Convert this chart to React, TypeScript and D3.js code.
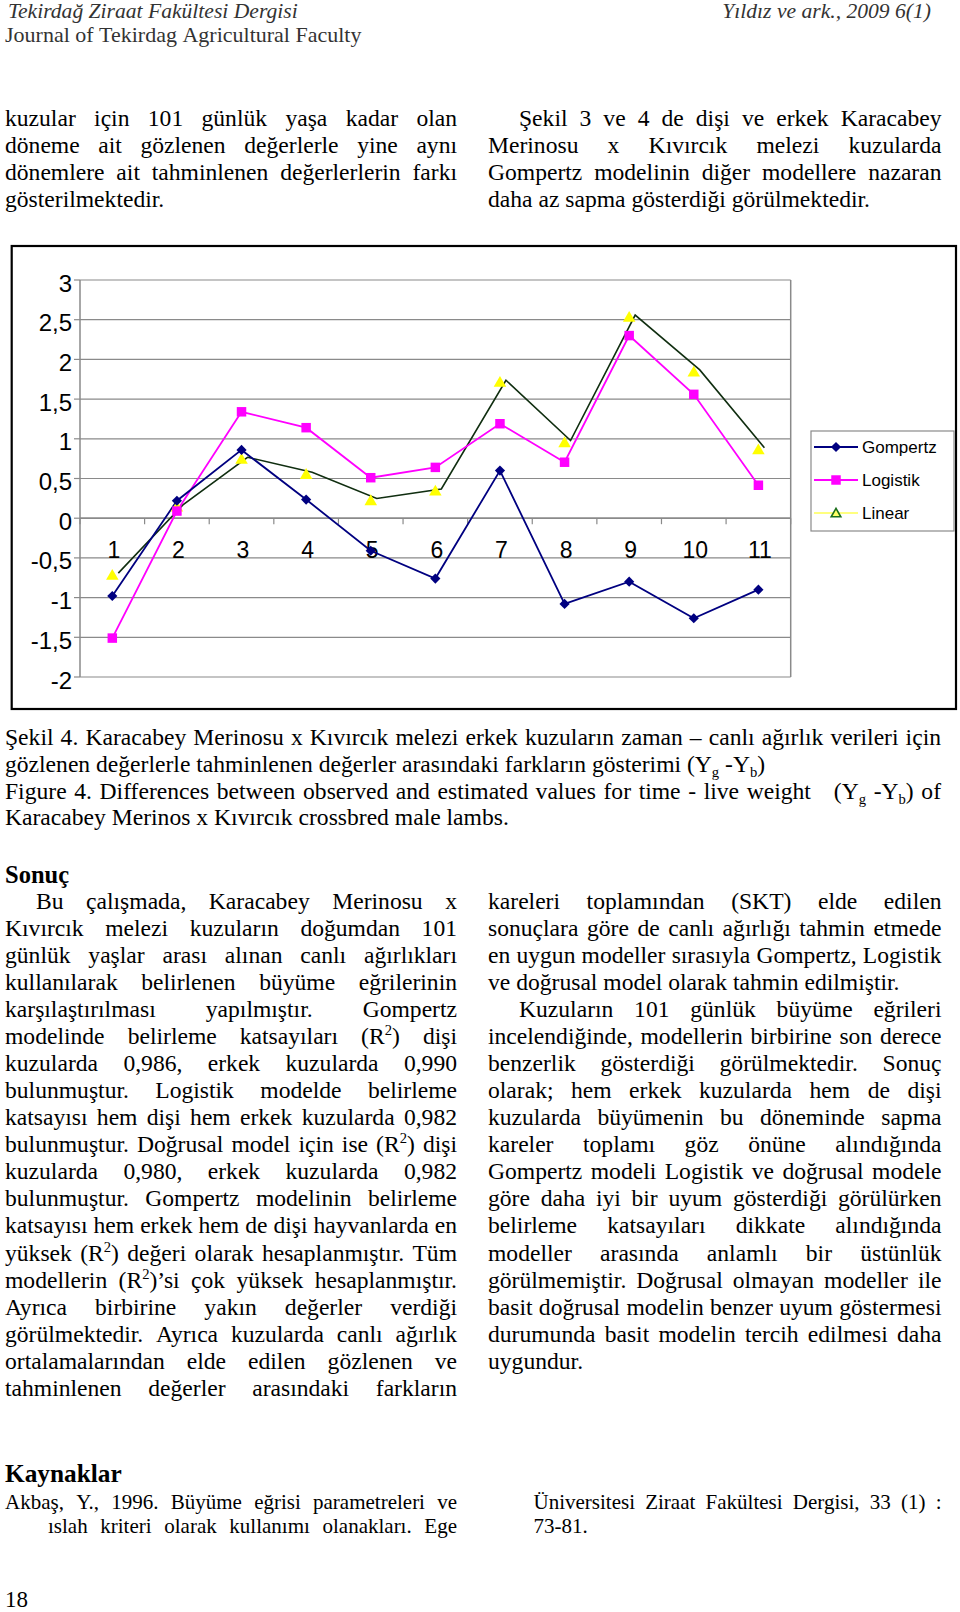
import React from 'react';
import * as d3 from 'd3';

// ---------- chart data ----------
const categories = ['1', '2', '3', '4', '5', '6', '7', '8', '9', '10', '11'];
const gompertz = [-0.98, 0.22, 0.86, 0.235, -0.41, -0.76, 0.6, -1.08, -0.8, -1.26, -0.9];
const logistik = [-1.51, 0.09, 1.34, 1.14, 0.51, 0.64, 1.19, 0.705, 2.3, 1.56, 0.415];
const linear = [-0.73, 0.13, 0.73, 0.54, 0.21, 0.33, 1.7, 0.94, 2.52, 1.83, 0.85];
const yTicks = [-2, -1.5, -1, -0.5, 0, 0.5, 1, 1.5, 2, 2.5, 3];
const seriesNames = ['Gompertz', 'Logistik', 'Linear'];

// ---------- page text ----------
const headerLeft = ['Tekirdağ Ziraat Fakültesi Dergisi', 'Journal of Tekirdag Agricultural Faculty'];
const headerRight = 'Yıldız ve ark., 2009 6(1)';
const topLeft = [
  'kuzular için 101 günlük yaşa kadar olan',
  'döneme ait gözlenen değerlerle yine aynı',
  'dönemlere ait tahminlenen değerlerlerin farkı',
  'gösterilmektedir.',
];
const topRight = [
  'Şekil 3 ve 4 de dişi ve erkek Karacabey',
  'Merinosu x Kıvırcık melezi kuzularda',
  'Gompertz modelinin diğer modellere nazaran',
  'daha az sapma gösterdiği görülmektedir.',
];
const caption = [
  'Şekil 4. Karacabey Merinosu x Kıvırcık melezi erkek kuzuların zaman – canlı ağırlık verileri için',
  'gözlenen değerlerle tahminlenen değerler arasındaki farkların gösterimi (Y_{g} -Y_{b})',
  'Figure 4. Differences between observed and estimated values for time - live weight   (Y_{g} -Y_{b}) of',
  'Karacabey Merinos x Kıvırcık crossbred male lambs.',
];
const sonucLeft = [
  'Bu çalışmada, Karacabey Merinosu x',
  'Kıvırcık melezi kuzuların doğumdan 101',
  'günlük yaşlar arası alınan canlı ağırlıkları',
  'kullanılarak belirlenen büyüme eğrilerinin',
  'karşılaştırılması yapılmıştır. Gompertz',
  'modelinde belirleme katsayıları (R^{2}) dişi',
  'kuzularda 0,986, erkek kuzularda 0,990',
  'bulunmuştur. Logistik modelde belirleme',
  'katsayısı hem dişi hem erkek kuzularda 0,982',
  'bulunmuştur. Doğrusal model için ise (R^{2}) dişi',
  'kuzularda 0,980, erkek kuzularda 0,982',
  'bulunmuştur. Gompertz modelinin belirleme',
  'katsayısı hem erkek hem de dişi hayvanlarda en',
  'yüksek (R^{2}) değeri olarak hesaplanmıştır. Tüm',
  'modellerin (R^{2})’si çok yüksek hesaplanmıştır.',
  'Ayrıca birbirine yakın değerler verdiği',
  'görülmektedir. Ayrıca kuzularda canlı ağırlık',
  'ortalamalarından elde edilen gözlenen ve',
  'tahminlenen değerler arasındaki farkların',
];
const sonucRight = [
  'kareleri toplamından (SKT) elde edilen',
  'sonuçlara göre de canlı ağırlığı tahmin etmede',
  'en uygun modeller sırasıyla Gompertz, Logistik',
  've doğrusal model olarak tahmin edilmiştir.',
  'Kuzuların 101 günlük büyüme eğrileri',
  'incelendiğinde, modellerin birbirine son derece',
  'benzerlik gösterdiği görülmektedir. Sonuç',
  'olarak; hem erkek kuzularda hem de dişi',
  'kuzularda büyümenin bu döneminde sapma',
  'kareler toplamı göz önüne alındığında',
  'Gompertz modeli Logistik ve doğrusal modele',
  'göre daha iyi bir uyum gösterdiği görülürken',
  'belirleme katsayıları dikkate alındığında',
  'modeller arasında anlamlı bir üstünlük',
  'görülmemiştir. Doğrusal olmayan modeller ile',
  'basit doğrusal modelin benzer uyum göstermesi',
  'durumunda basit modelin tercih edilmesi daha',
  'uygundur.',
];
const sonucRightNotJustified = [3, 17];
const sonucRightIndented = [4];
const refsLeft = ['Akbaş, Y., 1996. Büyüme eğrisi parametreleri ve', 'ıslah kriteri olarak kullanımı olanakları. Ege'];
const refsRight = ['Üniversitesi Ziraat Fakültesi Dergisi, 33 (1) :', '73-81.'];

// ---------- text helpers ----------
let ctx: CanvasRenderingContext2D | null = null;
function measure(t: string, font: string) {
  if (!ctx) ctx = document.createElement('canvas').getContext('2d');
  ctx!.font = font;
  return ctx!.measureText(t).width;
}
type Seg = { t: string; k: 'n' | 'sup' | 'sub' };
function parse(word: string): Seg[] {
  const segs: Seg[] = [];
  const re = /\^\{([^}]*)\}|_\{([^}]*)\}/g;
  let last = 0;
  let m: RegExpExecArray | null;
  while ((m = re.exec(word))) {
    if (m.index > last) segs.push({ t: word.slice(last, m.index), k: 'n' });
    if (m[1] !== undefined) segs.push({ t: m[1], k: 'sup' });
    else segs.push({ t: m[2], k: 'sub' });
    last = re.lastIndex;
  }
  if (last < word.length) segs.push({ t: word.slice(last), k: 'n' });
  return segs;
}

const SERIF = '"Liberation Serif", "Times New Roman", serif';

function TextLine(props: {
  text: string; x: number; y: number; width?: number; size: number;
  weight?: string; italic?: boolean; fill?: string; align?: 'left' | 'right';
}) {
  const { text, x, y, width, size, weight = 'normal', italic = false, fill = '#000', align = 'left' } = props;
  const font = (s: number) => `${italic ? 'italic ' : ''}${weight} ${s}px "Liberation Serif"`;
  const words = text.split(' ');
  const parsed = words.map((w) =>
    parse(w).map((s) => {
      const fs = s.k === 'n' ? size : size * 0.62;
      return { ...s, fs, w: measure(s.t, font(fs)) };
    })
  );
  const wordW = parsed.map((p) => d3.sum(p, (s) => s.w));
  const total = d3.sum(wordW);
  const space = measure(' ', font(size));
  let gap = space;
  if (width && words.length > 1) gap = (width - total) / (words.length - 1);
  let cx = x;
  if (align === 'right') cx = x - (total + space * (words.length - 1));
  const out: JSX.Element[] = [];
  parsed.forEach((p, i) => {
    p.forEach((s, j) => {
      if (s.t)
        out.push(
          <text
            key={`${i}-${j}`}
            x={cx}
            y={y + (s.k === 'sup' ? -size * 0.38 : s.k === 'sub' ? size * 0.22 : 0)}
            fontSize={s.fs}
            fontFamily={SERIF}
            fontWeight={weight}
            fontStyle={italic ? 'italic' : 'normal'}
            fill={fill}
          >
            {s.t}
          </text>
        );
      cx += s.w;
    });
    cx += gap;
  });
  return <g>{out}</g>;
}

// ---------- chart ----------
const SANS = '"Liberation Sans", Arial, sans-serif';
const colors = { gompertz: '#000080', logistik: '#ff00ff', linear: '#ffff00', linearLine: '#102e10', grid: '#8a8a8a' };
const linearLineShift = { dx: 6, dy: -3 };

function Chart() {
  const plot = { left: 80, right: 790.7, top: 280, bottom: 677 };
  const x = d3.scaleBand<string>().domain(categories).range([plot.left, plot.right]).padding(0);
  const y = d3.scaleLinear().domain([-2, 3]).range([plot.bottom, plot.top]);
  const cx = (c: string) => (x(c) as number) + x.bandwidth() / 2;
  const lineGen = (vals: number[], dx = 0, dy = 0) =>
    d3.line<number>().x((_, i) => cx(categories[i]) + dx).y((v) => y(v) + dy)(vals) as string;
  const diamond = d3.symbol(d3.symbolSquare, 52)() as string;
  const square = d3.symbol(d3.symbolSquare, 90)() as string;
  const triangle = d3.symbol(d3.symbolTriangle, 68)() as string;
  const fmt = (v: number) => String(v).replace('.', ',');
  const boundaries = d3.range(categories.length + 1).map((i) => plot.left + i * x.bandwidth());

  const legendY = [447, 480, 513];
  return (
    <g>
      <rect x={11.7} y={246} width={944.3} height={463} fill="#fff" stroke="#000" strokeWidth={2.2} />
      {yTicks.map((t) => (
        <g key={t}>
          <line x1={plot.left} x2={plot.right} y1={y(t)} y2={y(t)} stroke={colors.grid} strokeWidth={1.2} />
          <line x1={plot.left - 6} x2={plot.left} y1={y(t)} y2={y(t)} stroke={colors.grid} strokeWidth={1.2} />
          <text x={72} y={y(t) + 11.5} textAnchor="end" fontSize={24} fontFamily={SANS} fill="#000">
            {fmt(t)}
          </text>
        </g>
      ))}
      <line x1={plot.left} x2={plot.left} y1={plot.top} y2={plot.bottom} stroke={colors.grid} strokeWidth={1.5} />
      <line x1={plot.right} x2={plot.right} y1={plot.top} y2={plot.bottom} stroke={colors.grid} strokeWidth={1.5} />
      <line x1={plot.left} x2={plot.right} y1={y(0)} y2={y(0)} stroke={colors.grid} strokeWidth={1.5} />
      {boundaries.map((b, i) => (
        <line key={i} x1={b} x2={b} y1={y(0)} y2={y(0) + 6} stroke={colors.grid} strokeWidth={1.2} />
      ))}
      {categories.map((c) => (
        <text key={c} x={cx(c) + 1.5} y={y(0) + 40} textAnchor="middle" fontSize={23} fontFamily={SANS} fill="#000">
          {c}
        </text>
      ))}
      <path d={lineGen(linear, linearLineShift.dx, linearLineShift.dy)} fill="none" stroke={colors.linearLine} strokeWidth={1.6} />
      <path d={lineGen(logistik)} fill="none" stroke={colors.logistik} strokeWidth={1.8} />
      <path d={lineGen(gompertz)} fill="none" stroke={colors.gompertz} strokeWidth={1.8} />
      {linear.map((v, i) => (
        <path key={'t' + i} d={triangle} transform={`translate(${cx(categories[i])},${y(v)})`} fill={colors.linear} />
      ))}
      {logistik.map((v, i) => (
        <path key={'s' + i} d={square} transform={`translate(${cx(categories[i])},${y(v)})`} fill={colors.logistik} />
      ))}
      {gompertz.map((v, i) => (
        <path key={'d' + i} d={diamond} transform={`translate(${cx(categories[i])},${y(v)}) rotate(45)`} fill={colors.gompertz} />
      ))}
      {/* legend */}
      <rect x={811} y={431} width={143} height={100} fill="#fff" stroke={colors.grid} strokeWidth={1.2} />
      {seriesNames.map((name, i) => {
        const ly = legendY[i];
        const lc = i === 0 ? colors.gompertz : i === 1 ? colors.logistik : colors.linear;
        return (
          <g key={name}>
            <line x1={814} x2={858} y1={ly} y2={ly} stroke={lc} strokeWidth={i === 2 ? 1.2 : 2} />
            {i === 0 && <path d={diamond} transform={`translate(836,${ly}) rotate(45)`} fill={colors.gompertz} />}
            {i === 1 && <path d={square} transform={`translate(836,${ly})`} fill={colors.logistik} />}
            {i === 2 && (
              <path d={d3.symbol(d3.symbolTriangle, 40)() as string} transform={`translate(836,${ly + 1})`} fill="#ffff66" stroke="#1b6e1b" strokeWidth={1.6} />
            )}
            <text x={862} y={ly + 6} fontSize={17} fontFamily={SANS} fill="#000">
              {name}
            </text>
          </g>
        );
      })}
    </g>
  );
}

export default function App() {
  const body = 23.6;
  const lh = 27.08;
  const L = { x0: 5, x1: 457 };
  const R = { x0: 488, x1: 941.5 };
  const indent = 31;
  return (
    <svg width={960} height={1612} style={{ position: 'absolute', left: 0, top: 0, background: '#fff' }}>
      <rect x={0} y={0} width={960} height={1612} fill="#fff" />
      {/* header */}
      <TextLine text={headerLeft[0]} x={8} y={17.5} size={21.6} italic fill="#333" />
      <TextLine text={headerLeft[1]} x={5} y={41.5} size={22} fill="#333" />
      <TextLine text={headerRight} x={931} y={17.5} size={21.6} italic fill="#333" align="right" />
      {/* top paragraph */}
      {topLeft.map((t, i) => (
        <TextLine key={'tl' + i} text={t} x={L.x0} y={126 + i * 27} size={body} width={i < 3 ? L.x1 - L.x0 : undefined} />
      ))}
      {topRight.map((t, i) => (
        <TextLine key={'tr' + i} text={t} x={i === 0 ? R.x0 + indent : R.x0} y={126 + i * 27} size={body}
          width={i < 3 ? R.x1 - (i === 0 ? R.x0 + indent : R.x0) : undefined} />
      ))}
      <Chart />
      {/* caption */}
      {caption.map((t, i) => (
        <TextLine key={'c' + i} text={t} x={5} y={745 + i * 26.8} size={body} width={i === 0 || i === 2 ? 936 : undefined} />
      ))}
      {/* Sonuç */}
      <TextLine text="Sonuç" x={5} y={882.5} size={24.5} weight="bold" />
      {sonucLeft.map((t, i) => {
        const x0 = i === 0 ? L.x0 + indent : L.x0;
        return <TextLine key={'sl' + i} text={t} x={x0} y={908.5 + i * lh} size={body} width={L.x1 - x0} />;
      })}
      {sonucRight.map((t, i) => {
        const x0 = sonucRightIndented.includes(i) ? R.x0 + indent : R.x0;
        return (
          <TextLine key={'sr' + i} text={t} x={x0} y={908.5 + i * lh} size={body}
            width={sonucRightNotJustified.includes(i) ? undefined : R.x1 - x0} />
        );
      })}
      {/* Kaynaklar */}
      <TextLine text="Kaynaklar" x={5} y={1482} size={25.3} weight="bold" />
      <TextLine text={refsLeft[0]} x={5} y={1508.5} size={21} width={452} />
      <TextLine text={refsLeft[1]} x={48} y={1533} size={21} width={409} />
      <TextLine text={refsRight[0]} x={533.5} y={1508.5} size={21} width={408} />
      <TextLine text={refsRight[1]} x={533.5} y={1533} size={21} />
      <TextLine text="18" x={5} y={1607} size={23} />
    </svg>
  );
}
